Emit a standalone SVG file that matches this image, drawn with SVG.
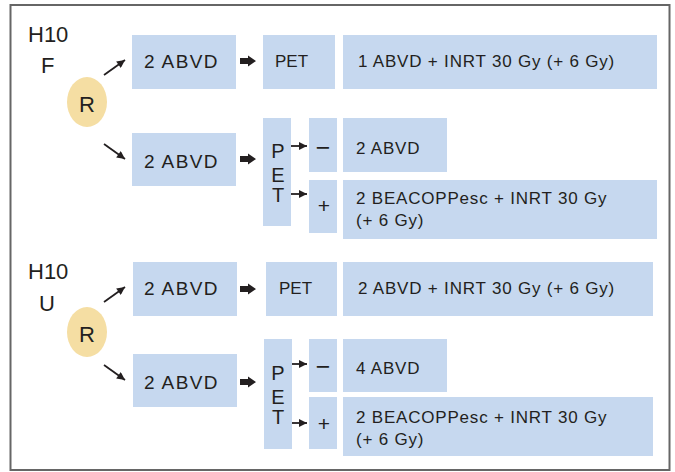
<svg xmlns="http://www.w3.org/2000/svg" width="675" height="472" viewBox="0 0 675 472">
<defs>
<style>
.box{fill:#c6d8ef}
.r{fill:#f5dea3}
.t{font-family:"Liberation Sans",Arial,sans-serif;fill:#231f20}
.big{font-size:19px;letter-spacing:1.4px}
.med{font-size:17px;letter-spacing:0.8px}
.lab{font-size:22px}
.pet{font-size:20px;text-anchor:middle}
.sg{font-size:21px;text-anchor:middle}
.mn{font-size:25px;text-anchor:middle}
.ln{stroke:#231f20;stroke-width:1.8;fill:none}
</style>
<marker id="ah" viewBox="0 0 10 10" refX="10" refY="5" markerWidth="9" markerHeight="8" markerUnits="userSpaceOnUse" orient="auto">
<path d="M0,0 L10,5 L0,10 z" fill="#231f20"/>
</marker>
<path id="block" d="M0,-3 L8,-3 L8,-5.5 L16,0 L8,5.5 L8,3 L0,3 z" fill="#231f20"/>
</defs>
<rect x="10.5" y="5" width="659" height="465" fill="#fff" stroke="#666" stroke-width="2"/>

<!-- H10 F section -->
<g id="label-f"><text class="t lab" x="28" y="42">H10</text><text class="t lab" x="41" y="73">F</text></g>
<g id="r-f"><ellipse class="r" cx="87" cy="102" rx="20" ry="25"/><text class="t lab" x="87" y="112" text-anchor="middle">R</text></g>
<g id="f-abvd1"><rect class="box" x="132" y="35" width="104" height="54"/><text class="t big" x="144" y="68">2 ABVD</text></g>
<g id="f-pet1"><rect class="box" x="263" y="35" width="72" height="54"/><text class="t med" x="275" y="67" style="letter-spacing:0">PET</text></g>
<g id="f-tx1"><rect class="box" x="343" y="35" width="314" height="54"/><text class="t med" x="358" y="67">1 ABVD + INRT 30 Gy (+ 6 Gy)</text></g>
<g id="f-abvd2"><rect class="box" x="132" y="133" width="104" height="53"/><text class="t big" x="144" y="168">2 ABVD</text></g>
<g id="f-pet2"><rect class="box" x="263" y="118" width="28" height="108"/><text class="t pet" x="278" y="158">P</text><text class="t pet" x="278" y="182">E</text><text class="t pet" x="278" y="202">T</text></g>
<g id="f-neg"><rect class="box" x="309" y="118" width="28" height="54"/><text class="t mn" x="323" y="156">−</text></g>
<g id="f-pos"><rect class="box" x="309" y="180" width="28" height="53"/><text class="t sg" x="324" y="213">+</text></g>
<g id="f-tx2"><rect class="box" x="343" y="118" width="104" height="54"/><text class="t med" x="356" y="154">2 ABVD</text></g>
<g id="f-tx3"><rect class="box" x="343" y="180" width="314" height="59"/><text class="t med" x="356" y="204">2 BEACOPPesc + INRT 30 Gy</text><text class="t med" x="356" y="226">(+ 6 Gy)</text></g>

<!-- H10 U section -->
<g id="label-u"><text class="t lab" x="28" y="279">H10</text><text class="t lab" x="39" y="311">U</text></g>
<g id="r-u"><ellipse class="r" cx="87" cy="332" rx="20" ry="25"/><text class="t lab" x="87" y="342" text-anchor="middle">R</text></g>
<g id="u-abvd1"><rect class="box" x="133" y="262" width="104" height="54"/><text class="t big" x="144" y="295">2 ABVD</text></g>
<g id="u-pet1"><rect class="box" x="266" y="262" width="71" height="54"/><text class="t med" x="279" y="294" style="letter-spacing:0">PET</text></g>
<g id="u-tx1"><rect class="box" x="343" y="262" width="310" height="54"/><text class="t med" x="358" y="294">2 ABVD + INRT 30 Gy (+ 6 Gy)</text></g>
<g id="u-abvd2"><rect class="box" x="133" y="354" width="104" height="53"/><text class="t big" x="144" y="389">2 ABVD</text></g>
<g id="u-pet2"><rect class="box" x="264" y="339" width="28" height="110"/><text class="t pet" x="278" y="380">P</text><text class="t pet" x="278" y="404">E</text><text class="t pet" x="278" y="424">T</text></g>
<g id="u-neg"><rect class="box" x="309" y="339" width="28" height="53"/><text class="t mn" x="323" y="375">−</text></g>
<g id="u-pos"><rect class="box" x="309" y="397" width="28" height="52"/><text class="t sg" x="324" y="431">+</text></g>
<g id="u-tx2"><rect class="box" x="343" y="339" width="104" height="53"/><text class="t med" x="356" y="374">4 ABVD</text></g>
<g id="u-tx3"><rect class="box" x="343" y="397" width="310" height="59"/><text class="t med" x="356" y="423">2 BEACOPPesc + INRT 30 Gy</text><text class="t med" x="356" y="445">(+ 6 Gy)</text></g>

<g id="connectors">
<line class="ln" x1="104" y1="75" x2="125" y2="60" marker-end="url(#ah)"/>
<line class="ln" x1="104" y1="144" x2="125" y2="159" marker-end="url(#ah)"/>
<use href="#block" x="240" y="61"/>
<use href="#block" x="240" y="159"/>
<line class="ln" x1="291" y1="146" x2="307" y2="146" marker-end="url(#ah)"/>
<line class="ln" x1="291" y1="194" x2="307" y2="194" marker-end="url(#ah)"/>

<line class="ln" x1="104" y1="302" x2="125" y2="287" marker-end="url(#ah)"/>
<line class="ln" x1="104" y1="365" x2="125" y2="380" marker-end="url(#ah)"/>
<use href="#block" x="240" y="289"/>
<use href="#block" x="240" y="382"/>
<line class="ln" x1="292" y1="364" x2="307" y2="364" marker-end="url(#ah)"/>
<line class="ln" x1="292" y1="423" x2="307" y2="423" marker-end="url(#ah)"/>
</g>
</svg>
